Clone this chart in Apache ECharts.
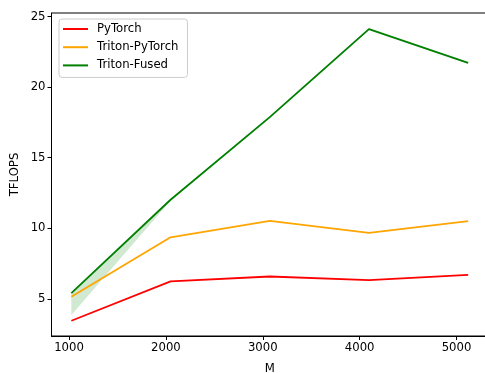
<!DOCTYPE html>
<html>
<head>
<meta charset="utf-8">
<script src="https://cdn.jsdelivr.net/npm/echarts@6/dist/echarts.min.js"></script>
<style>
html,body{margin:0;padding:0;background:#fff;}
#chart{width:485px;height:373px;}
</style>
</head>
<body>
<div id="chart"></div>
<script>
const M = [1024, 2048, 3072, 4096, 5120];
const pytorch = [3.44, 6.23, 6.58, 6.32, 6.70];
const tritonPytorch = [5.14, 9.36, 10.52, 9.67, 10.50];
const tritonFused = [5.40, 12.02, 17.88, 24.12, 21.72];
const fusedLow = [3.85, 11.95, 17.80, 24.05, 21.65];
const fusedHigh = [5.45, 12.06, 17.93, 24.17, 21.77];
const xTicks = [1000, 2000, 3000, 4000, 5000];
const yTicks = [5, 10, 15, 20, 25];

const pairs = (ys) => M.map((x, i) => [x, ys[i]]);
const font = 'DejaVu Sans';
const fs = 11.7;
const chart = echarts.init(document.getElementById('chart'), null, {renderer: 'canvas'});
const lw = 1.8;

chart.setOption({
  animation: false,
  backgroundColor: '#fff',
  textStyle: {fontFamily: font},
  grid: {left: 51.5, right: -3, top: 13, bottom: 37, outerBoundsMode: 'none', containLabel: false,
         show: true, borderColor: '#000', borderWidth: 1, backgroundColor: 'transparent'},
  legend: {
    orient: 'vertical', left: 59, top: 19,
    padding: [2, 9, 4, 4],
    itemGap: 2.2,
    itemWidth: 25, itemHeight: 2,
    icon: 'rect',
    borderColor: '#cccccc', borderWidth: 1, borderRadius: 3,
    backgroundColor: 'rgba(255,255,255,0.8)',
    textStyle: {fontFamily: font, fontSize: fs, color: '#000', lineHeight: 16, padding: [0, 0, 0, 4]},
    data: ['PyTorch', 'Triton-PyTorch', 'Triton-Fused']
  },
  xAxis: {
    type: 'value', min: 819.2, max: 5324.8,
    name: 'M', nameLocation: 'middle', nameGap: 27, nameMoveOverlap: false,
    nameTextStyle: {fontFamily: font, fontSize: fs, color: '#000'},
    axisLine: {show: true, lineStyle: {color: '#000', width: 1}},
    axisTick: {show: true, length: 4, lineStyle: {color: '#000'}, customValues: xTicks},
    axisLabel: {fontFamily: font, fontSize: fs, color: '#000', margin: 6, customValues: xTicks,
                formatter: (v) => String(v)},
    splitLine: {show: false}
  },
  yAxis: {
    type: 'value', min: 2.36, max: 25.26,
    name: 'TFLOPS', nameLocation: 'middle', nameGap: 31, nameRotate: 90, nameMoveOverlap: false,
    nameTextStyle: {fontFamily: font, fontSize: fs, color: '#000'},
    axisLine: {show: true, lineStyle: {color: '#000', width: 1}},
    axisTick: {show: true, length: 4, lineStyle: {color: '#000'}, customValues: yTicks},
    axisLabel: {fontFamily: font, fontSize: fs, color: '#000', margin: 6, customValues: yTicks,
                formatter: (v) => String(v)},
    splitLine: {show: false}
  },
  series: [
    {name: 'band', type: 'custom', silent: true, z: 1,
     data: [0],
     renderItem: (params, api) => {
       const pts = [];
       for (let i = 0; i < M.length; i++) pts.push(api.coord([M[i], fusedHigh[i]]));
       for (let i = M.length - 1; i >= 0; i--) pts.push(api.coord([M[i], fusedLow[i]]));
       return {type: 'polygon', shape: {points: pts}, style: {fill: 'rgba(0,128,0,0.18)'}};
     }},
    {name: 'PyTorch', type: 'line', data: pairs(pytorch), symbol: 'none', color: '#ff0000',
     lineStyle: {color: '#ff0000', width: lw}, z: 3},
    {name: 'Triton-PyTorch', type: 'line', data: pairs(tritonPytorch), symbol: 'none', color: '#ffa500',
     lineStyle: {color: '#ffa500', width: lw}, z: 3},
    {name: 'Triton-Fused', type: 'line', data: pairs(tritonFused), symbol: 'none', color: '#008000',
     lineStyle: {color: '#008000', width: lw}, z: 3}
  ]
});
</script>
</body>
</html>
